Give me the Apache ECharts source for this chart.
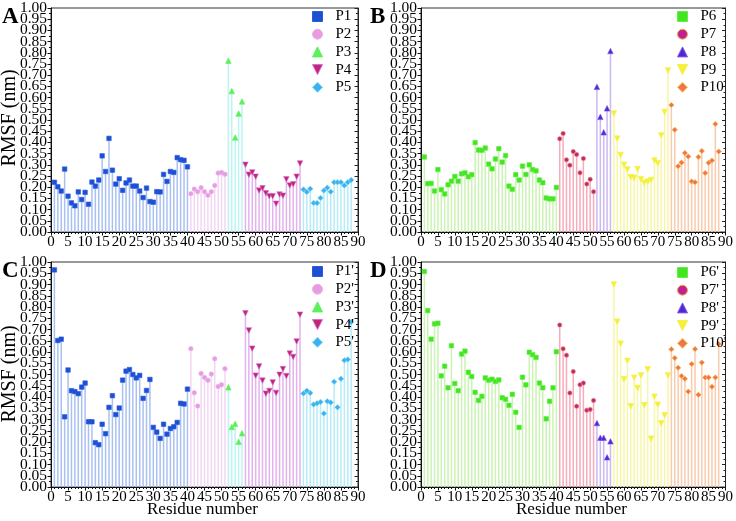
<!DOCTYPE html>
<html>
<head>
<meta charset="utf-8">
<script src="https://cdn.jsdelivr.net/npm/echarts@6/dist/echarts.min.js"></script>
<style>html,body{margin:0;padding:0;background:#fff}#c{width:736px;height:521px}</style>
</head>
<body>
<div id="c"></div>
<script>
// ---- data ----
const segStart = [1, 41, 52, 57, 74];
const yTicks = [0, 1, 0.05];      // min, max, step
const xTicks = [0, 90, 5];

const A_P1 = [0.222,0.202,0.183,0.281,0.160,0.130,0.117,0.179,0.145,0.177,0.124,0.223,0.205,0.232,0.340,0.270,0.418,0.276,0.214,0.238,0.186,0.219,0.232,0.205,0.205,0.183,0.154,0.196,0.136,0.133,0.180,0.179,0.257,0.226,0.270,0.266,0.332,0.323,0.320,0.291];
const A_P2 = [0.171,0.192,0.180,0.198,0.180,0.164,0.180,0.208,0.263,0.266,0.258];
const A_P3 = [0.765,0.629,0.422,0.529,0.583];
const A_P4 = [0.300,0.256,0.266,0.247,0.185,0.195,0.173,0.160,0.160,0.126,0.167,0.162,0.235,0.208,0.213,0.247,0.306];
const A_P5 = [0.190,0.179,0.193,0.130,0.129,0.152,0.185,0.198,0.180,0.222,0.222,0.222,0.208,0.222,0.232];

const B_P6 = [0.335,0.216,0.217,0.183,0.279,0.189,0.170,0.211,0.227,0.248,0.227,0.260,0.264,0.247,0.256,0.399,0.366,0.365,0.375,0.303,0.282,0.326,0.372,0.312,0.341,0.205,0.191,0.256,0.232,0.294,0.257,0.300,0.279,0.273,0.232,0.220,0.152,0.148,0.148,0.199];
const B_P7 = [0.416,0.440,0.322,0.298,0.359,0.346,0.264,0.328,0.214,0.235,0.180];
const B_P8 = [0.648,0.514,0.445,0.552,0.808];
const B_P9 = [0.529,0.417,0.344,0.300,0.279,0.245,0.242,0.281,0.236,0.220,0.225,0.232,0.319,0.307,0.431,0.536,0.721];
const B_P10 = [0.567,0.456,0.294,0.310,0.353,0.337,0.226,0.222,0.335,0.362,0.263,0.309,0.319,0.482,0.359];

const C_P1 = [0.965,0.651,0.657,0.312,0.520,0.428,0.424,0.415,0.444,0.462,0.290,0.290,0.197,0.188,0.279,0.237,0.354,0.406,0.322,0.351,0.475,0.515,0.522,0.500,0.485,0.496,0.394,0.429,0.478,0.265,0.244,0.216,0.279,0.235,0.260,0.268,0.287,0.372,0.369,0.435];
const C_P2 = [0.615,0.419,0.360,0.505,0.487,0.474,0.502,0.570,0.447,0.455,0.526];
const C_P3 = [0.443,0.267,0.281,0.201,0.239];
const C_P4 = [0.772,0.696,0.615,0.495,0.536,0.473,0.415,0.427,0.465,0.418,0.499,0.524,0.493,0.593,0.578,0.647,0.766];
const C_P5 = [0.416,0.428,0.418,0.367,0.372,0.378,0.327,0.381,0.376,0.468,0.354,0.481,0.563,0.567,0.733];

const D_P6 = [0.958,0.784,0.657,0.725,0.728,0.494,0.537,0.441,0.628,0.460,0.428,0.591,0.604,0.510,0.491,0.421,0.385,0.403,0.485,0.475,0.479,0.469,0.476,0.397,0.390,0.363,0.412,0.332,0.265,0.488,0.454,0.599,0.588,0.576,0.462,0.441,0.303,0.381,0.441,0.601];
const D_P7 = [0.720,0.614,0.586,0.418,0.513,0.359,0.455,0.462,0.341,0.345,0.385];
const D_P8 = [0.284,0.219,0.219,0.132,0.203];
const D_P9 = [0.900,0.735,0.637,0.479,0.561,0.359,0.486,0.440,0.496,0.363,0.523,0.215,0.401,0.366,0.283,0.319,0.496];
const D_P10 = [0.612,0.573,0.530,0.493,0.481,0.424,0.547,0.613,0.410,0.553,0.487,0.487,0.446,0.487,0.636];

const namesA = ['P1','P2','P3','P4','P5'];
const namesB = ['P6','P7','P8','P9','P10'];
const namesC = ["P1'","P2'","P3'","P4'","P5'"];
const namesD = ["P6'","P7'","P8'","P9'","P10'"];

// ---- styles ----
const FONT = '"Liberation Serif","Times New Roman",serif';
const DOWN = 'path://M0,0 L10,0 L5,10 Z';
const styleAC = [
  {sym:'rect', size:4.5, color:'#1d4fd2', border:'#2a5ae0', stem:'#a9c1f2'},
  {sym:'circle', size:4.5, color:'#e79be3', border:'#eab0e6', stem:'#f3d6f3'},
  {sym:'triangle', size:5.5, color:'#5cf05c', border:'#5cf05c', stem:'#b9f5f1'},
  {sym:DOWN, size:5.5, color:'#c0266f', border:'#d46ad8', stem:'#e3b3ee'},
  {sym:'diamond', size:5.5, color:'#3cb0f2', border:'#6fd9e6', stem:'#b5ecf8'}
];
const styleBD = [
  {sym:'rect', size:4.5, color:'#44e424', border:'#62f040', stem:'#cbf3b4'},
  {sym:'circle', size:4.5, color:'#c02094', border:'#f0b040', stem:'#f7abbc'},
  {sym:'triangle', size:5.5, color:'#5228d2', border:'#7a5ae8', stem:'#cbb8f2'},
  {sym:DOWN, size:5.5, color:'#f4f03c', border:'#f4f03c', stem:'#f7f7a8'},
  {sym:'diamond', size:5.5, color:'#f07452', border:'#f5d040', stem:'#f9cbad'}
];

const panels = [
  {grid:{left:51, top:6, width:307, height:226}, segs:[A_P1,A_P2,A_P3,A_P4,A_P5], names:namesA, st:styleAC, letter:'A', lx:2, ly:6, legend:{left:312, top:9}, ytitle:true, xtitle:false},
  {grid:{left:421, top:6, width:305, height:226}, segs:[B_P6,B_P7,B_P8,B_P9,B_P10], names:namesB, st:styleBD, letter:'B', lx:370, ly:6, legend:{left:677, top:9}, ytitle:false, xtitle:false},
  {grid:{left:51, top:262, width:307, height:225}, segs:[C_P1,C_P2,C_P3,C_P4,C_P5], names:namesC, st:styleAC, letter:'C', lx:2, ly:260, legend:{left:312, top:264}, ytitle:true, xtitle:true},
  {grid:{left:421, top:262, width:305, height:225}, segs:[D_P6,D_P7,D_P8,D_P9,D_P10], names:namesD, st:styleBD, letter:'D', lx:370, ly:260, legend:{left:677, top:265}, ytitle:false, xtitle:true}
];

const yLabelStyle = {fontFamily:FONT, fontSize:15.5, color:'#000', margin:4, hideOverlap:false, formatter:v=>v.toFixed(2)};

const grids=[], xAxes=[], yAxes=[], series=[], legends=[], graphics=[];
panels.forEach((p, gi) => {
  grids.push(Object.assign({show:true, borderColor:'#333', borderWidth:1, backgroundColor:'transparent'}, p.grid));
  xAxes.push({type:'value', gridIndex:gi, min:xTicks[0], max:xTicks[1], interval:xTicks[2],
    axisLine:{show:true, onZero:false, lineStyle:{color:'#111', width:1}},
    axisTick:{show:true, inside:false, length:3.5, lineStyle:{color:'#111'}},
    minorTick:{show:true, splitNumber:5, length:2, lineStyle:{color:'#111'}},
    axisLabel:{fontFamily:FONT, fontSize:15, color:'#000', margin:3, showMinLabel:true, showMaxLabel:true, hideOverlap:false},
    splitLine:{show:false}});
  const yMain = yAxes.length;
  // main left axis: labels 0.05 .. 0.95
  yAxes.push({type:'value', gridIndex:gi, position:'left', min:yTicks[0], max:yTicks[1], interval:yTicks[2],
    axisLine:{show:true, onZero:false, lineStyle:{color:'#111', width:1}},
    axisTick:{show:true, inside:false, length:3.5, lineStyle:{color:'#111'}},
    minorTick:{show:true, splitNumber:2, length:2, lineStyle:{color:'#111'}},
    axisLabel:Object.assign({showMinLabel:false, showMaxLabel:false}, yLabelStyle),
    splitLine:{show:false}});
  // right mirror axis
  yAxes.push({type:'value', gridIndex:gi, position:'right', min:yTicks[0], max:yTicks[1], interval:yTicks[2],
    axisLine:{show:true, onZero:false, lineStyle:{color:'#222', width:1}},
    axisTick:{show:true, inside:true, length:3.5, lineStyle:{color:'#222'}},
    minorTick:{show:true, splitNumber:2, length:2, lineStyle:{color:'#222'}},
    axisLabel:{show:false}, splitLine:{show:false}});
  // left label-only axis for the end labels 0.00 and 1.00
  yAxes.push({type:'value', gridIndex:gi, position:'left', offset:0, min:yTicks[0], max:yTicks[1], interval:yTicks[1]-yTicks[0],
    axisLine:{show:false}, axisTick:{show:false}, minorTick:{show:false}, splitLine:{show:false},
    axisLabel:Object.assign({showMinLabel:true, showMaxLabel:true}, yLabelStyle)});
  const stemData = [];
  p.segs.forEach((arr, si) => {
    arr.forEach((v, i) => stemData.push({value:[segStart[si]+i, v], itemStyle:{color:p.st[si].stem}}));
  });
  series.push({type:'bar', name:'stems'+gi, xAxisIndex:gi, yAxisIndex:yMain, barWidth:1.5, data:stemData, silent:true, z:1, animation:false});
  p.segs.forEach((arr, si) => {
    const s = p.st[si];
    series.push({type:'scatter', name:p.names[si], xAxisIndex:gi, yAxisIndex:yMain, symbol:s.sym, symbolSize:s.size,
      itemStyle:{color:s.color, borderColor:s.border, borderWidth:0.6, opacity:1},
      data:arr.map((v,i)=>[segStart[si]+i, v]), z:3, animation:false});
  });
  legends.push({orient:'vertical', left:p.legend.left, top:p.legend.top, padding:0, itemGap:2.7, itemWidth:10, itemHeight:10,
    textStyle:{fontFamily:FONT, fontSize:15, color:'#000', lineHeight:14, padding:[0,0,0,8]},
    data:p.names.map((n,si)=>({name:n, icon:p.st[si].sym, itemStyle:{color:p.st[si].color, borderColor:p.st[si].border, borderWidth:1}}))});
  graphics.push({type:'text', left:p.lx, top:p.ly, style:{text:p.letter, font:'bold 23px '+FONT, fill:'#000'}});
  if (p.ytitle) {
    const cy = p.grid.top + 112;
    graphics.push({type:'text', x:10, y:cy, rotation:Math.PI/2, style:{text:'RMSF (nm)', font:'20px '+FONT, fill:'#000', align:'center', verticalAlign:'middle'}});
  }
  if (p.xtitle) {
    const cx = p.grid.left + p.grid.width/2 - 2;
    graphics.push({type:'text', x:cx, y:510, style:{text:'Residue number', font:'17px '+FONT, fill:'#000', align:'center', verticalAlign:'middle'}});
  }
});

const chart = echarts.init(document.getElementById('c'), null, {renderer:'canvas'});
chart.setOption({animation:false, grid:grids, xAxis:xAxes, yAxis:yAxes, series:series, legend:legends, graphic:graphics});
</script>
</body>
</html>
